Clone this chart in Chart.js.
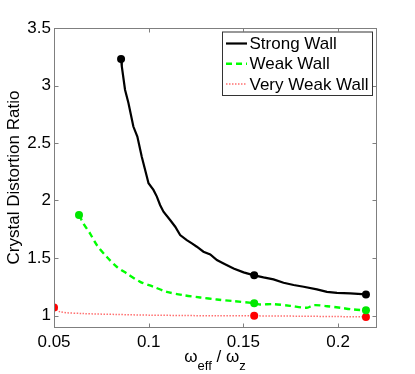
<!DOCTYPE html>
<html>
<head>
<meta charset="utf-8">
<script src="https://cdn.jsdelivr.net/npm/chart.js@4.4.1/dist/chart.umd.min.js"></script>
<style>
html,body{margin:0;padding:0;background:#fff;}
#wrap{position:relative;width:415px;height:374px;}
</style>
</head>
<body>
<div id="wrap"><canvas id="c" width="415" height="374"></canvas></div>
<script>
// ---- data ----
const strongX = [0.0854,0.0858,0.0875,0.0893,0.0919,0.0940,0.0963,0.0990,0.0999,0.1025,0.1043,0.1060,0.1078,0.1113,0.1140,0.1166,0.1201,0.1228,0.1254,0.1289,0.1325,0.1360,0.1395,0.1448,0.1501,0.1557,0.1606,0.1659,0.1712,0.1765,0.1818,0.1888,0.1941,0.1994,0.2064,0.2147];
const strongY = [3.230,3.166,2.963,2.847,2.643,2.556,2.382,2.208,2.150,2.092,2.034,1.961,1.903,1.830,1.772,1.700,1.656,1.627,1.598,1.555,1.531,1.482,1.453,1.409,1.375,1.349,1.331,1.314,1.285,1.265,1.250,1.227,1.206,1.197,1.192,1.183];

const weakX = [0.0632,0.0655,0.0690,0.0726,0.0778,0.0831,0.0884,0.0955,0.1025,0.1095,0.1184,0.1272,0.1360,0.1448,0.1557,0.1589,0.1659,0.1747,0.1835,0.1871,0.1941,0.2012,0.2082,0.2147];
const weakY = [1.874,1.801,1.714,1.613,1.511,1.424,1.366,1.293,1.250,1.206,1.177,1.157,1.139,1.125,1.107,1.096,1.099,1.084,1.067,1.090,1.081,1.067,1.052,1.046];

const veryWeakX = [0.0500,0.0532,0.0655,0.0831,0.1007,0.1184,0.1360,0.1557,0.1800,0.1976,0.2147];
const veryWeakY = [1.070,1.032,1.017,1.009,1.003,1.000,0.997,0.997,0.994,0.991,0.988];

// x positions that carry a dot marker
const strongMarkX = [0.0854,0.1557,0.2147];
const weakMarkX = [0.0632,0.1557,0.2147];
const veryWeakMarkX = [0.0500,0.1557,0.2147];

const seriesNames = ['Strong Wall','Weak Wall','Very Weak Wall'];
const xTickValues = [0.05,0.1,0.15,0.2];
const yTickValues = [1,1.5,2,2.5,3,3.5];
const xTitleParts = [['ω','main'],['eff','sub'],[' / ','main'],['ω','main'],['z','sub']];
const yTitle = 'Crystal Distortion Ratio';

const FONT = '"Liberation Sans", Arial, Helvetica, sans-serif';

function pts(xs, ys){ return xs.map((x,i)=>({x:x,y:ys[i]})); }
function markRadius(marks){
  return ctx => (ctx.raw && marks.includes(ctx.raw.x)) ? 4 : 0;
}

const AXIS_COLOR = '#7f7f7f';

const framePlugin = {
  id:'frame',
  afterDraw(chart){
    const c = chart.ctx, a = chart.chartArea;
    const xs = chart.scales.x, ys = chart.scales.y;
    c.save();
    c.strokeStyle = AXIS_COLOR;
    c.lineWidth = 1;
    const L = Math.round(a.left)+0.5, R = Math.round(a.right)+0.5, T = Math.round(a.top)+0.5, B = Math.round(a.bottom)+0.5;
    c.strokeRect(L, T, R-L, B-T);
    c.beginPath();
    const tl = 4;
    xTickValues.forEach(v=>{
      const p = Math.round(xs.getPixelForValue(v))+0.5;
      c.moveTo(p,B); c.lineTo(p,B-tl);
      c.moveTo(p,T); c.lineTo(p,T+tl);
    });
    yTickValues.forEach(v=>{
      const p = Math.round(ys.getPixelForValue(v))+0.5;
      c.moveTo(L,p); c.lineTo(L+tl,p);
      c.moveTo(R,p); c.lineTo(R-tl,p);
    });
    c.stroke();

    // legend box
    const lx = 222, ly = 31.5, lw = 150, lh = 63.5;
    c.fillStyle = '#fff';
    c.fillRect(lx, ly, lw, lh);
    c.strokeStyle = '#333';
    c.strokeRect(lx+0.5, ly+0.5, lw, lh);
    c.font = '17px ' + FONT;
    c.textBaseline = 'middle';
    c.textAlign = 'left';
    chart.data.datasets.forEach((ds,i)=>{
      const yy = 43.5 + i*20.3;
      c.beginPath();
      c.strokeStyle = ds.borderColor;
      c.lineWidth = ds.borderWidth;
      c.setLineDash(ds.borderDash || []);
      c.moveTo(226, yy); c.lineTo(247, yy);
      c.stroke();
      c.setLineDash([]);
      c.fillStyle = '#000';
      c.fillText(ds.label, 249.5, yy+1);
    });

    // x axis title with subscripts
    const main = '17px ' + FONT, sub = '13px ' + FONT;
    let total = 0;
    xTitleParts.forEach(p=>{ c.font = p[1]==='main'?main:sub; total += c.measureText(p[0]).width; });
    let x = (a.left + a.right)/2 - total/2;
    c.textBaseline = 'alphabetic';
    c.fillStyle = '#000';
    xTitleParts.forEach(p=>{
      c.font = p[1]==='main'?main:sub;
      c.fillText(p[0], x, p[1]==='main'?362:370);
      x += c.measureText(p[0]).width;
    });
    c.restore();
  }
};

new Chart(document.getElementById('c'), {
  type:'line',
  data:{
    datasets:[
      {label:seriesNames[0], data:pts(strongX,strongY), borderColor:'#000000', backgroundColor:'#000000',
       borderWidth:2.2, pointRadius:markRadius(strongMarkX), pointBorderWidth:0, tension:0, pointHoverRadius:0},
      {label:seriesNames[1], data:pts(weakX,weakY), borderColor:'#00ff00', backgroundColor:'#00e600',
       borderWidth:2.4, borderDash:[6,4], pointRadius:markRadius(weakMarkX), pointBorderWidth:0, tension:0.3, pointHoverRadius:0},
      {label:seriesNames[2], data:pts(veryWeakX,veryWeakY), borderColor:'#ff6f6f', backgroundColor:'#ff0000',
       borderWidth:1.5, borderDash:[1.5,1.5], pointRadius:markRadius(veryWeakMarkX), pointBorderWidth:0, tension:0.3, pointHoverRadius:0}
    ]
  },
  options:{
    responsive:false,
    animation:false,
    events:[],
    layout:{padding:{top:28, right:39, left:0, bottom:0}},
    plugins:{legend:{display:false}, tooltip:{enabled:false}},
    scales:{
      x:{type:'linear', min:0.05, max:0.22,
         afterFit:s=>{s.height = 47;},
         afterBuildTicks:s=>{s.ticks = xTickValues.map(v=>({value:v}));},
         grid:{display:false, drawTicks:false},
         border:{display:false},
         ticks:{padding:5, color:'#000', font:{family:FONT, size:17}, maxRotation:0, autoSkip:false,
                callback:v=>String(v)}},
      y:{type:'linear', min:0.9, max:3.5,
         afterFit:s=>{s.width = 54;},
         afterBuildTicks:s=>{s.ticks = yTickValues.map(v=>({value:v}));},
         grid:{display:false, drawTicks:false},
         border:{display:false},
         title:{display:true, text:yTitle, color:'#000', font:{family:FONT, size:17}, padding:{top:4,bottom:0}},
         ticks:{padding:3, color:'#000', font:{family:FONT, size:17}, autoSkip:false,
                callback:v=>String(v)}}
    }
  },
  plugins:[framePlugin]
});
</script>
</body>
</html>
